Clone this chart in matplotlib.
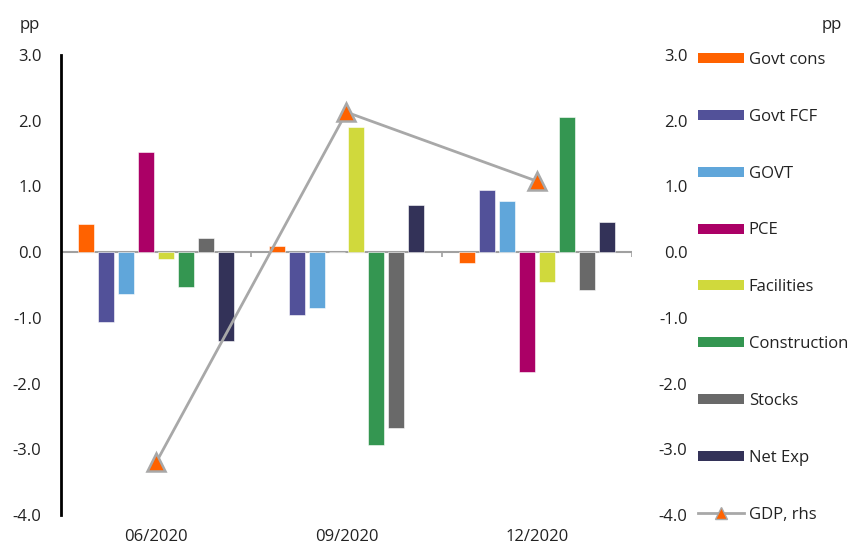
import numpy as np
import matplotlib.pyplot as plt
from matplotlib.lines import Line2D
from matplotlib.patches import Patch

plt.rcParams['font.family'] = ['Open Sans', 'DejaVu Sans']

quarters = ['06/2020', '09/2020', '12/2020']
components = ['Govt cons', 'Govt FCF', 'GOVT', 'PCE', 'Facilities',
              'Construction', 'Stocks', 'Net Exp']
colors = ['#FF6200', '#525199', '#60A6DA', '#AB0066', '#D0D93C',
          '#349651', '#696969', '#333258']

govt_cons = [0.43, 0.09, -0.17]
govt_fcf = [-1.06, -0.96, 0.95]
govt = [-0.63, -0.85, 0.78]
pce = [1.53, 0.0, -1.83]
facilities = [-0.11, 1.91, -0.46]
construction = [-0.53, -2.94, 2.05]
stocks = [0.21, -2.67, -0.58]
net_exp = [-1.35, 0.71, 0.46]
gdp = [-3.2, 2.13, 1.08]

series = [govt_cons, govt_fcf, govt, pce, facilities, construction, stocks, net_exp]

fig = plt.figure(figsize=(8.54, 5.45), dpi=100)
ax = fig.add_axes([61 / 854, 1 - 515 / 545, (632 - 61) / 854, (515 - 55) / 545])
ax2 = ax.twinx()

x = np.arange(len(quarters))
pitch = 0.105
width = 0.084
for k, (vals, c) in enumerate(zip(series, colors)):
    ax.bar(x + (k - 3.5) * pitch, vals, width, color=c, edgecolor='white',
           linewidth=0.4, zorder=2)

ax.axhline(0, color='#A0A0A0', linewidth=1.5, zorder=1)
bounds = list(x[:-1] + 0.5) + [x[-1] + 0.5]
ax.vlines(bounds, 0, -0.08, color='#A0A0A0', linewidth=1.2)

ax2.plot(x, gdp, color='#A8A8A8', linewidth=2, marker='^', markersize=13,
         markerfacecolor='#FF6200', markeredgecolor='#A8A8A8',
         markeredgewidth=1.8, zorder=3)

for a in (ax, ax2):
    a.set_ylim(-4, 3)
    a.set_yticks(np.arange(-4, 4, 1))
    a.set_yticklabels([f'{v:.1f}' for v in np.arange(-4, 4, 1)])
    for s in ['top', 'right', 'bottom', 'left']:
        a.spines[s].set_visible(False)
    a.tick_params(axis='y', length=0, labelsize=12, labelcolor='#222222')

ax.spines['left'].set_visible(True)
ax.spines['left'].set_linewidth(2)
ax.spines['left'].set_color('black')
ax.tick_params(axis='y', pad=14)
ax2.tick_params(axis='y', pad=40)
for lbl in ax2.get_yticklabels():
    lbl.set_horizontalalignment('right')

ax.set_xlim(-0.5, 2.5)
ax.set_xticks(x)
ax.set_xticklabels(quarters)
ax.tick_params(axis='x', length=0, labelsize=12, pad=10, labelcolor='#222222')

fig.text(20 / 854, 1 - 25 / 545, 'pp', fontsize=12, color='#222222', va='center')
fig.text(822 / 854, 1 - 25 / 545, 'pp', fontsize=12, color='#222222', va='center')

handles = [Patch(facecolor=c, edgecolor='none') for c in colors]
handles.append(Line2D([], [], color='#A8A8A8', linewidth=2, marker='^',
                      markersize=8, markerfacecolor='#FF6200',
                      markeredgecolor='#A8A8A8'))
fig.legend(handles, components + ['GDP, rhs'], loc='upper left',
           bbox_to_anchor=(683 / 854, 1 - 37 / 545), frameon=False,
           fontsize=12, handlelength=2.75, handleheight=0.55,
           handletextpad=0.3, labelspacing=2.45, labelcolor='#222222')

fig.savefig('out.png', dpi=100)
